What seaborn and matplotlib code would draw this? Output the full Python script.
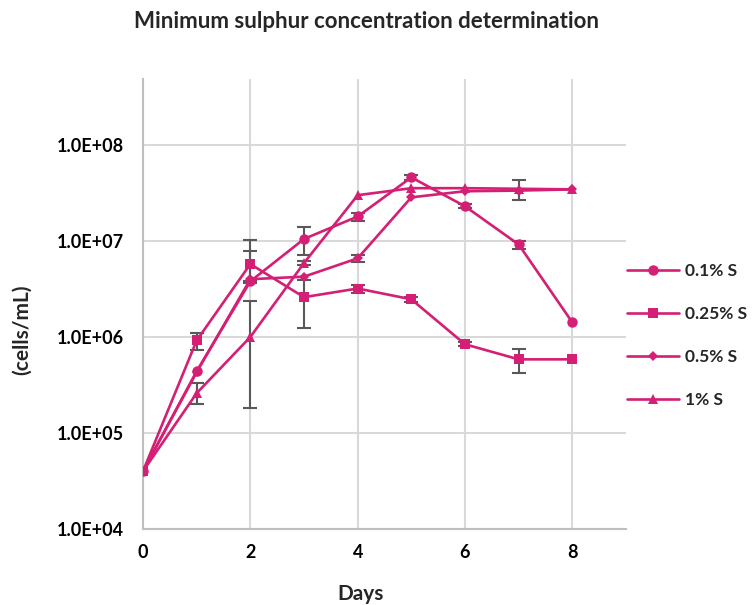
import numpy as np
import pandas as pd
import matplotlib
matplotlib.use("Agg")
import matplotlib.pyplot as plt
import seaborn as sns
from matplotlib.ticker import FuncFormatter, FixedLocator, NullLocator
from matplotlib.lines import Line2D

# ---------------- data ----------------
days = [0, 1, 2, 3, 4, 5, 6, 7, 8]
series_names = ["0.1% S", "0.25% S", "0.5% S", "1% S"]

s01 = [4.0e4, 4.4e5, 3.8e6, 1.05e7, 1.8e7, 4.6e7, 2.3e7, 9.2e6, 1.42e6]
s025 = [4.0e4, 9.2e5, 5.75e6, 2.6e6, 3.2e6, 2.47e6, 8.4e5, 5.85e5, 5.85e5]
s05 = [4.0e4, 4.3e5, 4.0e6, 4.25e6, 6.6e6, 2.85e7, 3.3e7, 3.35e7, 3.45e7]
s1 = [4.0e4, 2.6e5, 1.0e6, 5.9e6, 3.0e7, 3.55e7, 3.55e7, 3.5e7, 3.45e7]

# error bars (lower, upper)
e01_lo = [0, 0, 0, 3.4e6, 1.7e6, 2.5e6, 1.0e6, 0.9e6, 0]
e01_hi = [0, 0, 6.4e6, 3.4e6, 1.7e6, 2.5e6, 1.0e6, 0.9e6, 0]
e025_lo = [0, 1.8e5, 2.1e6, 1.35e6, 0.3e6, 0.15e6, 0.4e5, 1.65e5, 0]
e025_hi = [0, 1.8e5, 2.1e6, 1.35e6, 0.3e6, 0.15e6, 0.4e5, 1.65e5, 0]
e05_lo = [0, 0, 0, 0, 6.0e5, 0, 0, 0, 0]
e05_hi = [0, 0, 0, 0, 6.0e5, 0, 0, 0, 0]
e1_lo = [0, 0.6e5, 0.82e6, 0.3e6, 0, 0, 0, 8.5e6, 0]
e1_hi = [0, 0.7e5, 1.37e6, 0.3e6, 0, 0, 0, 8.5e6, 0]

values = [s01, s025, s05, s1]
errs_lo = [e01_lo, e025_lo, e05_lo, e1_lo]
errs_hi = [e01_hi, e025_hi, e05_hi, e1_hi]

# ---------------- style ----------------
LINE = "#D41F74"
ERR = "#595959"
GRID = "#D9D9D9"
SPINE = "#BFBFBF"
FONT = ["Lato", "DejaVu Sans"]

sns.set_theme(style="whitegrid")
plt.rcParams["font.family"] = FONT
plt.rcParams["font.weight"] = "bold"

rows = []
for name, vals in zip(series_names, values):
    for d, v in zip(days, vals):
        rows.append({"Days": d, "cells": v, "series": name})
df = pd.DataFrame(rows)

fig = plt.figure(figsize=(7.55, 6.05), dpi=100)
ax = fig.add_axes([143 / 755, 1 - 529 / 605, (626 - 143) / 755, (529 - 79) / 605])

markers = {"0.1% S": "o", "0.25% S": "s", "0.5% S": "D", "1% S": "^"}
msizes = {"0.1% S": 7.5, "0.25% S": 7.5, "0.5% S": 5.5, "1% S": 7.5}

# error bars (below the lines)
for name, vals, lo, hi in zip(series_names, values, errs_lo, errs_hi):
    d = np.array(days, float)
    v = np.array(vals, float)
    lo = np.array(lo, float)
    hi = np.array(hi, float)
    m = (lo > 0) | (hi > 0)
    ax.errorbar(d[m], v[m], yerr=[lo[m], hi[m]], fmt="none", ecolor=ERR,
                elinewidth=1.5, capsize=5, capthick=1.5, zorder=1.8)

sns.lineplot(data=df, x="Days", y="cells", hue="series", style="series",
             markers=markers, dashes=False, palette=[LINE] * 4,
             linewidth=1.9, markeredgewidth=0, ax=ax, legend=False,
             zorder=3)
for ln, name in zip(ax.get_lines()[-4:], series_names):
    ln.set_markersize(msizes[name])

ax.set_yscale("log")
ax.set_xlim(0, 9)
ax.set_ylim(1e4, 10 ** 8.6875)
ax.xaxis.set_major_locator(FixedLocator([0, 2, 4, 6, 8]))
ax.yaxis.set_major_locator(FixedLocator([1e4, 1e5, 1e6, 1e7, 1e8]))
ax.yaxis.set_minor_locator(NullLocator())
ax.yaxis.set_major_formatter(FuncFormatter(lambda v, p: f"{v:.1E}"))
ax.xaxis.set_major_formatter(FuncFormatter(lambda v, p: f"{int(v)}"))

ax.grid(True, which="major", color=GRID, linewidth=1.5)
ax.set_axisbelow(True)
for s in ["top", "right"]:
    ax.spines[s].set_visible(False)
for s in ["left", "bottom"]:
    ax.spines[s].set_color(SPINE)
    ax.spines[s].set_linewidth(1.5)
ax.tick_params(axis="both", length=0, labelsize=13, colors="black")
ax.tick_params(axis="y", pad=14)
ax.tick_params(axis="x", pad=11)
for lab in ax.get_xticklabels() + ax.get_yticklabels():
    lab.set_fontweight("bold")
ax.set_xlabel("")
ax.set_ylabel("")
ax.set_facecolor("white")

fig.text(0.486, 1 - 22 / 605, "Minimum sulphur concentration determination",
         ha="center", va="center", fontsize=16, fontweight="bold")
fig.text(22 / 755, 1 - 330 / 605, "(cells/mL)", rotation=90, ha="center",
         va="center", fontsize=15, fontweight="bold")
fig.text(361 / 755, 1 - 594 / 605, "Days", ha="center", va="center",
         fontsize=15, fontweight="bold")

handles = [Line2D([], [], color=LINE, linewidth=1.9, marker=markers[n],
                  markersize=msizes[n], markeredgewidth=0) for n in series_names]
leg = fig.legend(handles, series_names, loc="upper left",
                 bbox_to_anchor=(627 / 755, 1 - 263 / 605), frameon=False,
                 borderpad=0, borderaxespad=0,
                 handlelength=3.0, handletextpad=0.35, labelspacing=1.55,
                 prop={"family": FONT, "weight": "bold", "size": 12.5})

fig.savefig("out.png", dpi=100, facecolor="white")
